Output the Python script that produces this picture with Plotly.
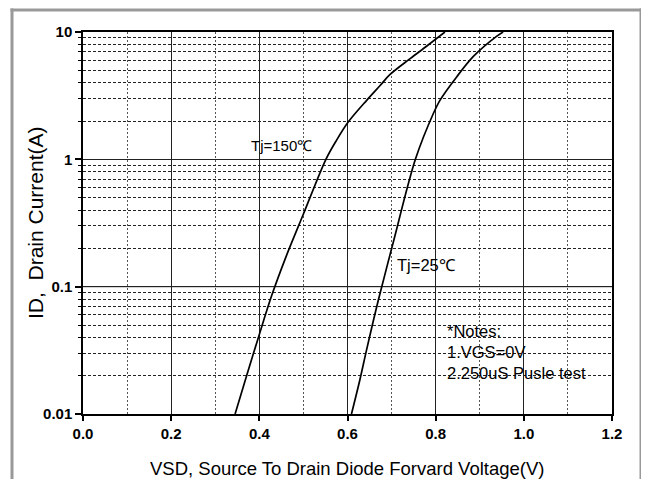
import plotly.graph_objects as go

# Data
t150_x = [0.345, 0.372, 0.400, 0.428, 0.460, 0.500, 0.551, 0.575, 0.602, 0.644, 0.674, 0.696, 0.742, 0.780, 0.821]
t150_y = [0.010, 0.0204, 0.0422, 0.0851, 0.170, 0.372, 1.00, 1.41, 1.97, 2.92, 3.80, 4.62, 6.17, 7.76, 10.0]
t25_x = [0.609, 0.628, 0.643, 0.670, 0.704, 0.754, 0.795, 0.810, 0.848, 0.885, 0.938, 0.953]
t25_y = [0.010, 0.0185, 0.0316, 0.0785, 0.224, 1.00, 2.30, 2.92, 4.46, 6.40, 9.23, 10.0]
x_ticks = [0.0, 0.2, 0.4, 0.6, 0.8, 1.0, 1.2]
x_ticklabels = ["0.0", "0.2", "0.4", "0.6", "0.8", "1.0", "1.2"]
y_ticks = [0.01, 0.1, 1, 10]
y_ticklabels = ["0.01", "0.1", "1", "10"]

FONT = "Liberation Sans, Arial, sans-serif"

# The page adds an 8px body margin, so the figure is sized 8px smaller than the window.
W, H = 641, 471
ML, MR, MT, MB = 75, 37, 24, 65
PW, PH = W - ML - MR, H - MT - MB

def px_x(fx):
    return (fx - ML) / PW

def px_y(fy):
    return (H - MB - fy) / PH

fig = go.Figure()
for xs, ys in [(t150_x, t150_y), (t25_x, t25_y)]:
    fig.add_trace(go.Scatter(x=xs, y=ys, mode="lines",
                             line=dict(color="black", width=1.7, shape="spline", smoothing=0.9),
                             showlegend=False, hoverinfo="skip"))

fig.add_shape(type="line", xref="paper", x0=0, x1=1, yref="y", y0=0.1, y1=0.1,
              line=dict(color="#aaaaaa", width=1.5), layer="below")

# outer gray frame drawn as thin filled bands
FRAME = "#999999"
bands = [
    (px_x(2.5), px_x(5.5), px_y(H), px_y(0.5)),     # left
    (px_x(631.5), px_x(634.5), px_y(H), px_y(0.5)), # right
    (px_x(2.5), px_x(634.5), px_y(3.5), px_y(0.5)), # top
]
for x0, x1, y0, y1 in bands:
    fig.add_shape(type="rect", xref="paper", yref="paper", x0=x0, x1=x1, y0=y0, y1=y1,
                  fillcolor=FRAME, line=dict(width=0))

fig.update_layout(
    width=W, height=H,
    margin=dict(l=ML, r=MR, t=MT, b=MB),
    paper_bgcolor="white", plot_bgcolor="white",
    font=dict(family=FONT, color="black"),
    xaxis=dict(
        range=[0, 1.2], tickvals=x_ticks, ticktext=x_ticklabels, automargin=False,
        ticks="outside", ticklen=5, tickwidth=1.5, tickcolor="black",
        tickfont=dict(size=15, family=FONT, weight="bold"),
        showline=True, linecolor="black", linewidth=1.5, mirror=True,
        showgrid=True, gridcolor="#222222", gridwidth=1,
        minor=dict(dtick=0.1, showgrid=True, gridcolor="#555555", griddash="2px,2px", gridwidth=1, ticks=""),
        zeroline=False,
    ),
    yaxis=dict(
        type="log", range=[-2, 1], tickvals=y_ticks, ticktext=y_ticklabels, automargin=False,
        ticks="outside", ticklen=6, tickwidth=1.5, tickcolor="black",
        tickfont=dict(size=15, family=FONT, weight="bold"),
        showline=True, linecolor="black", linewidth=1.5, mirror=True,
        showgrid=True, gridcolor="#222222", gridwidth=1,
        minor=dict(dtick="D1", showgrid=True, gridcolor="#222222", griddash="3px,2px", gridwidth=0.8,
                   ticks="outside", ticklen=3, tickcolor="black", tickwidth=1.2),
        zeroline=False,
    ),
)

fig.add_annotation(xref="paper", yref="paper", x=0.5, y=px_y(460),
                   text="VSD, Source To Drain Diode Forvard Voltage(V)", showarrow=False,
                   font=dict(size=18.5), xanchor="center", yanchor="middle")
fig.add_annotation(xref="paper", yref="paper", x=px_x(27), y=0.5, textangle=-90,
                   text="ID,  Drain Current(A)", showarrow=False,
                   font=dict(size=21), xanchor="center", yanchor="middle")

fig.add_annotation(x=0.451, y=0.112, text="Tj=150℃", showarrow=False, font=dict(size=15),
                   xanchor="center", yanchor="middle")
fig.add_annotation(x=0.708, y=-0.83, text="Tj=25℃", showarrow=False, font=dict(size=16.5),
                   xanchor="left", yanchor="middle")
notes = ["*Notes:", "1.VGS=0V", "2.250uS Pusle test"]
note_y = [-1.349, -1.514, -1.679]
for t, yy in zip(notes, note_y):
    fig.add_annotation(x=0.821, y=yy, text=t, showarrow=False, font=dict(size=16.5),
                       xanchor="left", yanchor="middle")

fig.write_html("out.html")
